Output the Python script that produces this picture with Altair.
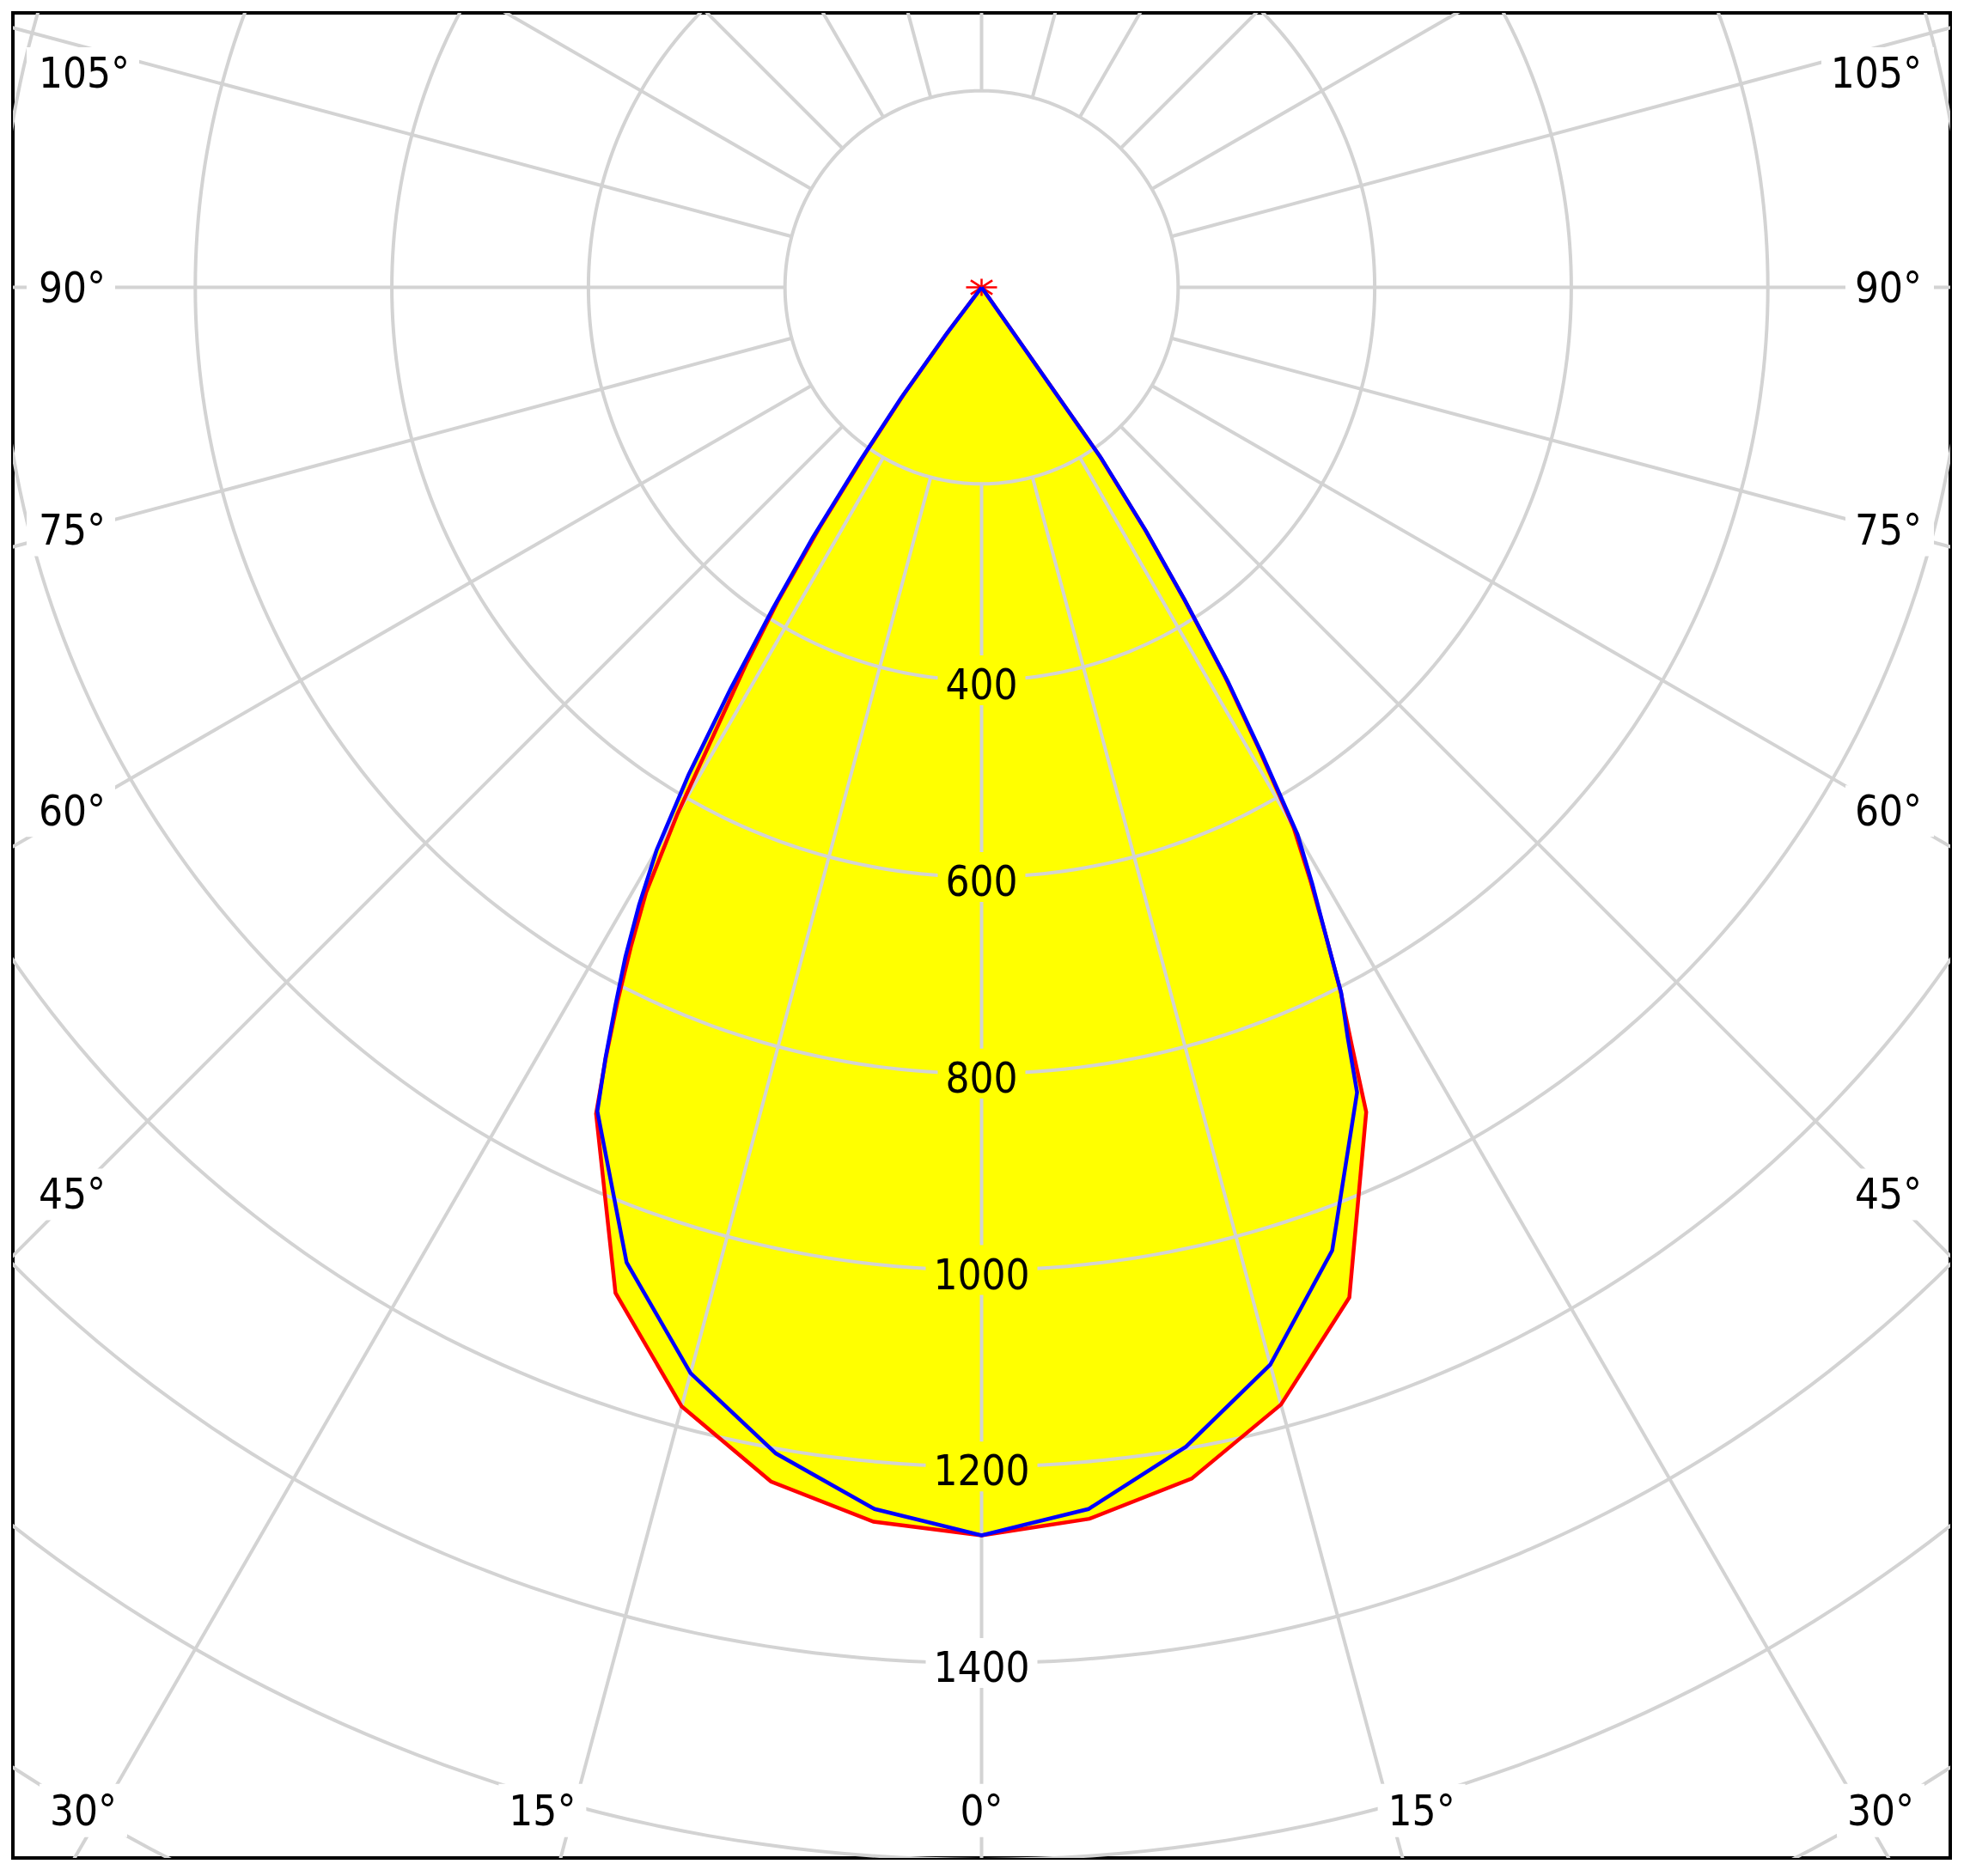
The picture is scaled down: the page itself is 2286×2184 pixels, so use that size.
import math
import altair as alt
import pandas as pd

# ---------------- data ----------------
# gamma angles (deg, 0 = straight down) and luminous intensity (cd)
ANGLES = [0, 5, 10, 15, 20, 25, 26, 27, 28, 29, 30, 31, 32, 33, 34, 35, 36, 37, 90]
RED_LEFT = [1270, 1261, 1234, 1179, 1089, 928, 872, 816, 760, 704, 619, 522, 452, 380, 295, 205, 135, 55, 0]
RED_RIGHT = [1270, 1258, 1231, 1177, 1094, 926, 860, 805, 745, 690, 635, 548, 468, 378, 297, 208, 0, 0, 0]
BLUE_LEFT = [1270, 1248, 1205, 1144, 1056, 925, 873, 821, 772, 719, 661, 579, 482, 390, 307, 215, 140, 60, 0]
BLUE_RIGHT = [1270, 1248, 1198, 1135, 1043, 904, 850, 806, 745, 694, 643, 553, 473, 380, 300, 212, 0, 0, 0]

RING_VALUES = [200, 400, 600, 800, 1000, 1200, 1400, 1600, 1800, 2000]
RING_LABELS = [400, 600, 800, 1000, 1200, 1400]
SPOKE_ANGLES = list(range(0, 360, 15))
ANGLE_LABELS = [0, 15, 30, 45, 60, 75, 90, 105]

# ---------------- layout ----------------
W, H = 2255, 2148
K = 1.144                      # pixels per cd
X_HALF = 1127.5 / K
Y_TOP = 319.5 / K
Y_BOT = -1828.5 / K
FONT = "DejaVu Sans Condensed, DejaVu Sans"
FS = 49
DIGIT_W = 28.0
DEG_W = 22.0
GRID = "#d3d3d3"
YELLOW = "#ffff00"

xs = alt.Scale(domain=[-X_HALF, X_HALF], nice=False, zero=False)
ys = alt.Scale(domain=[Y_BOT, Y_TOP], nice=False, zero=False)


def X(f="x"):
    return alt.X(f"{f}:Q", scale=xs, axis=None)


def Y(f="y"):
    return alt.Y(f"{f}:Q", scale=ys, axis=None)


def polar(r, a_deg, side=1):
    a = math.radians(a_deg)
    return side * r * math.sin(a), -r * math.cos(a)


def outline(left, right, name):
    rows = []
    i = 0
    for a, r in reversed(list(zip(ANGLES, left))):
        x, y = polar(r, a, -1)
        rows.append({"x": x, "y": y, "i": i, "curve": name})
        i += 1
    for a, r in list(zip(ANGLES, right))[1:]:
        x, y = polar(r, a, 1)
        rows.append({"x": x, "y": y, "i": i, "curve": name})
        i += 1
    return pd.DataFrame(rows)


red_df = outline(RED_LEFT, RED_RIGHT, "red")
blue_df = outline(BLUE_LEFT, BLUE_RIGHT, "blue")

# rings
ring_rows = []
for v in RING_VALUES:
    for k in range(0, 361):
        x, y = polar(v, k)
        ring_rows.append({"x": x, "y": y, "k": k, "ring": v})
ring_df = pd.DataFrame(ring_rows)

# spokes
spoke_rows = []
for a in SPOKE_ANGLES:
    x0, y0 = polar(200, a)
    x1, y1 = polar(3000, a)
    spoke_rows.append({"x": x0, "y": y0, "x2": x1, "y2": y1})
spoke_df = pd.DataFrame(spoke_rows)

# ring labels and their background boxes
fill_reach = max(RED_LEFT[0], BLUE_LEFT[0])
ring_lab_rows, box_rows = [], []
for v in RING_LABELS:
    txt = str(v)
    hw = (len(txt) * DIGIT_W / 2 + 9) / K
    hh = 29 / K
    ring_lab_rows.append({"x": 0.0, "y": -v, "t": txt})
    bg = YELLOW if v + hh < fill_reach else "white"
    box_rows.append({"x": -hw, "x2": hw, "y": -v - hh, "y2": -v + hh, "bg": bg})

# angle labels
XC_SIDE = 923.0
Y_BOTTOM_LABEL = -1550.0
Y_TOP_LABEL = 218.0
X_RIGHT_EDGE = (2237 - 1142.5) / K
X_LEFT_EDGE = -(1142.5 - 45) / K
XB_RIGHT = (2228 - 1142.5) / K
XB_LEFT = -(1142.5 - 58) / K
center_labs, left_labs, right_labs = [], [], []
for a in ANGLE_LABELS:
    txt = f"{a}\u00b0"
    w = ((len(txt) - 1) * DIGIT_W + DEG_W) / K
    s, c = math.sin(math.radians(a)), math.cos(math.radians(a))
    for side in ([1] if a == 0 else [-1, 1]):
        t_side = XC_SIDE / s if s > 1e-9 else float("inf")
        t_bot = -Y_BOTTOM_LABEL / c if c > 1e-9 else float("inf")
        if t_bot <= t_side:
            xl = side * (-Y_BOTTOM_LABEL) * s / c
            if a == 0:
                lo, hi = xl - w / 2, xl + w / 2
            elif side < 0:
                lo, hi = xl + 3 / K - w, xl + 3 / K
            else:
                lo, hi = xl - 2 / K, xl - 2 / K + w
            if lo < XB_LEFT:
                lo, hi = XB_LEFT, XB_LEFT + w
            if hi > XB_RIGHT:
                lo, hi = XB_RIGHT - w, XB_RIGHT
            xc = (lo + hi) / 2
            yc = Y_BOTTOM_LABEL
            center_labs.append({"x": xc, "y": yc, "t": txt})
            pad = 12 / K
            hh = 31 / K
            box_rows.append({"x": lo - pad, "x2": hi + pad, "y": yc - hh, "y2": yc + hh, "bg": "white"})
        else:
            yc = min(-t_side * c, Y_TOP_LABEL)
            hh = 30 / K
            if side == 1:
                right_labs.append({"x": X_RIGHT_EDGE, "y": yc, "t": txt})
                box_rows.append({"x": X_RIGHT_EDGE - w - 11 / K, "x2": X_RIGHT_EDGE + 14 / K,
                                 "y": yc - hh, "y2": yc + hh, "bg": "white"})
            else:
                left_labs.append({"x": X_LEFT_EDGE, "y": yc, "t": txt})
                box_rows.append({"x": X_LEFT_EDGE - 14 / K, "x2": X_LEFT_EDGE + w + 11 / K,
                                 "y": yc - hh, "y2": yc + hh, "bg": "white"})

box_df = pd.DataFrame(box_rows)
ring_txt_df = pd.DataFrame(ring_lab_rows)
center_df = pd.DataFrame(center_labs)
left_df = pd.DataFrame(left_labs)
right_df = pd.DataFrame(right_labs)
star_df = pd.DataFrame([{"x": 0.0, "y": 0.0}])

# ---------------- layers ----------------
fill_red = alt.Chart(red_df).mark_line(fill=YELLOW, strokeOpacity=0, clip=True).encode(
    x=X(), y=Y(), order="i:Q")
fill_blue = alt.Chart(blue_df).mark_line(fill=YELLOW, strokeOpacity=0, clip=True).encode(
    x=X(), y=Y(), order="i:Q")

rings = alt.Chart(ring_df).mark_line(stroke=GRID, strokeWidth=4, clip=True).encode(
    x=X(), y=Y(), order="k:Q", detail="ring:N")
spokes = alt.Chart(spoke_df).mark_rule(stroke=GRID, strokeWidth=4, clip=True).encode(
    x=X(), y=Y(), x2="x2:Q", y2="y2:Q")

boxes = alt.Chart(box_df).mark_rect(clip=True).encode(
    x=X(), x2="x2:Q", y=Y(), y2="y2:Q", fill=alt.Fill("bg:N", scale=None))

text_kw = dict(font=FONT, fontSize=FS, color="black", baseline="middle")
t_ring = alt.Chart(ring_txt_df).mark_text(align="center", dy=7, **text_kw).encode(x=X(), y=Y(), text="t:N")
t_center = alt.Chart(center_df).mark_text(align="center", dy=2, **text_kw).encode(x=X(), y=Y(), text="t:N")
t_left = alt.Chart(left_df).mark_text(align="left", dy=2, **text_kw).encode(x=X(), y=Y(), text="t:N")
t_right = alt.Chart(right_df).mark_text(align="right", dy=2, **text_kw).encode(x=X(), y=Y(), text="t:N")

red_line = alt.Chart(red_df).mark_line(stroke="#ff0000", strokeWidth=4.5, clip=True).encode(
    x=X(), y=Y(), order="i:Q")
blue_line = alt.Chart(blue_df).mark_line(stroke="#0000ff", strokeWidth=4.5, clip=True).encode(
    x=X(), y=Y(), order="i:Q")

star = alt.Chart(star_df).mark_point(
    shape="M-1,0L1,0M-0.7,-0.45L0.7,0.45M-0.7,0.45L0.7,-0.45M0,-0.55L0,0.55",
    filled=False, stroke="#ff0000", strokeWidth=2.5, size=1300, opacity=1).encode(x=X(), y=Y())

chart = alt.layer(
    fill_red, fill_blue, rings, spokes, boxes, t_ring, t_center, t_left, t_right,
    red_line, star, blue_line
).properties(
    width=W, height=H,
    padding={"left": 7, "top": 7, "right": 5, "bottom": 5},
    autosize="none",
    background="white",
).configure_view(stroke="black", strokeWidth=4)

chart.save("out.html", embed_options={"renderer": "svg", "actions": False})
